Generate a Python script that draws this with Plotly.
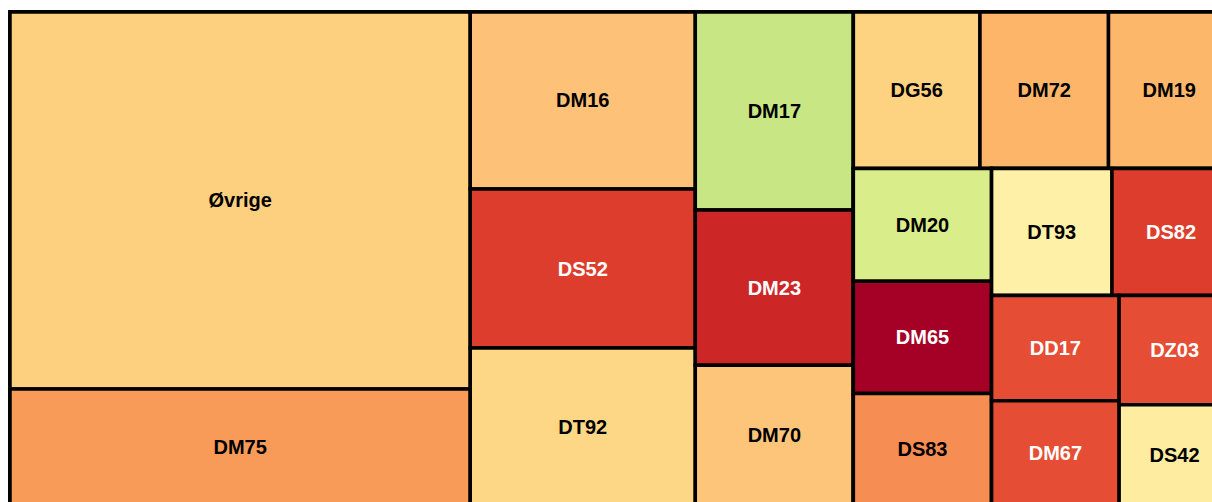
import plotly.graph_objects as go

# Leaf data (label, value) and the group each tile belongs to
leaf_labels = ["Øvrige", "DM75", "DM16", "DS52", "DT92", "DM17", "DM23", "DM70",
               "DG56", "DM72", "DM19", "DM20", "DM65", "DS83", "DT93", "DS82",
               "DD17", "DM67", "DZ03", "DS42"]
leaf_values = [1734, 534, 398, 358, 353, 313, 245, 221,
               198, 201, 190, 156, 155, 154, 153, 150,
               134, 133, 121, 111]
leaf_groups = ["c1", "c1", "c2", "c2", "c2", "c3", "c3", "c3",
               "r_top", "r_top", "r_top", "r_col", "r_col", "r_col", "r_row", "r_row",
               "r_c1", "r_c1", "r_c2", "r_c2"]
leaf_colors = ["#FDD07F", "#F89B59", "#FDC177", "#DD3D2D", "#FDD785", "#C8E684",
               "#CC2627", "#FDC57A", "#FDD281", "#FDB56A", "#FDB76B", "#D9EE8A",
               "#A50026", "#F68D52", "#FEF0A6", "#DD3D2D", "#E54E35", "#E54E35",
               "#E54E35", "#FEEDA1"]
leaf_text_colors = ["black", "black", "black", "white", "black", "black", "white", "black",
                    "black", "black", "black", "black", "white", "black", "black", "white",
                    "white", "white", "white", "black"]

# Layout groups (id, parent) that arrange the tiles in rows and columns
group_ids = ["root", "c1", "c2", "c3", "r", "r_top", "r_rest", "r_col", "r_rest2",
             "r_row", "r_rest3", "r_c1", "r_c2"]
group_parents = ["", "root", "root", "root", "root", "r", "r", "r_rest", "r_rest",
                 "r_rest2", "r_rest2", "r_rest3", "r_rest3"]

ids = group_ids + leaf_labels
labels = [""] * len(group_ids) + leaf_labels
parents = group_parents + leaf_groups
values = [0] * len(group_ids) + leaf_values
colors = ["#FFFFFF"] * len(group_ids) + leaf_colors
text_colors = ["black"] * len(group_ids) + leaf_text_colors

fig = go.Figure(go.Treemap(
    ids=ids,
    labels=labels,
    parents=parents,
    values=values,
    branchvalues="remainder",
    sort=False,
    textinfo="label",
    textposition="middle center",
    textfont=dict(family="Liberation Sans, Arial, sans-serif", size=20,
                  color=text_colors, weight="bold"),
    marker=dict(colors=colors, line=dict(color="black", width=3.5),
                pad=dict(t=0, l=0, r=0, b=0)),
    pathbar=dict(visible=False),
    tiling=dict(packing="slice-dice", pad=0),
    hoverinfo="label+value",
))

fig.update_layout(
    width=1232, height=507,
    margin=dict(l=10, r=2, t=12, b=2),
    paper_bgcolor="white",
)

fig.write_html(
    "out.html",
    config={"displayModeBar": False},
    post_script="document.body.style.margin='0';"
                "document.documentElement.style.overflow='hidden';"
                "document.body.style.overflow='hidden';",
)
